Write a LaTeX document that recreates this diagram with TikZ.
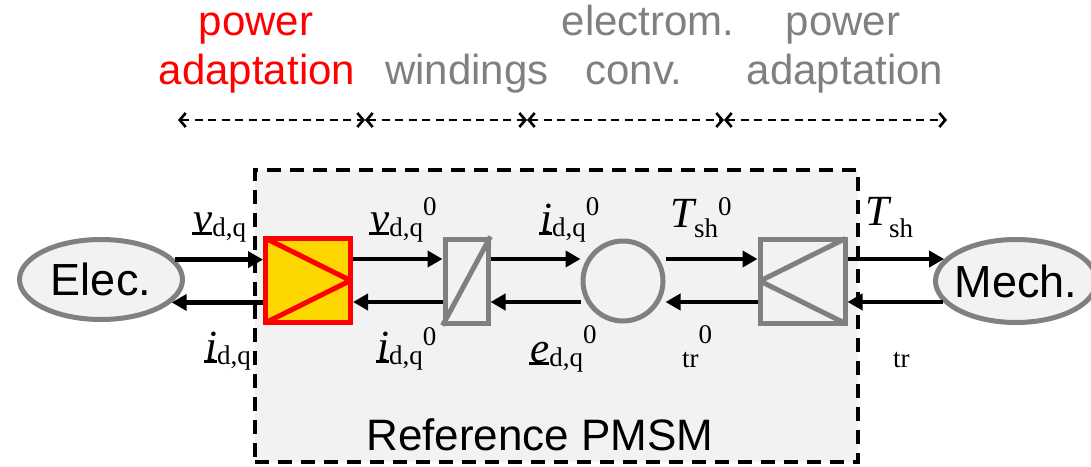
\documentclass[tikz,border=0pt]{standalone}
\usepackage{fontspec}
\setmainfont{Liberation Serif}
\newfontfamily\arialf{Liberation Sans}
\usetikzlibrary{arrows.meta,shapes.geometric}
\definecolor{ppred}{HTML}{FF0000}
\definecolor{ppgold}{HTML}{FFD700}
\definecolor{ppgray}{HTML}{808080}
\definecolor{ppbg}{HTML}{F2F2F2}
\newcommand\sbx[1]{\raisebox{-4pt}{\fontsize{27}{27}\selectfont\upshape #1}}
\newcommand\spx[1]{\raisebox{#1}{\fontsize{27}{27}\selectfont\upshape 0}}
\newcommand\ulet[1]{\setbox0\hbox{#1}\rlap{\kern-1pt\rule[-2.5pt]{\dimexpr\wd0+1pt\relax}{2.6pt}}\box0}
\begin{document}
\begin{tikzpicture}[x=1pt,y=-1pt,
  hdr/.style={font=\arialf\fontsize{42}{42}\selectfont, anchor=base, inner sep=0},
  darr/.style={line width=2.8pt, dash pattern=on 8pt off 5.5pt,
     {Straight Barb[length=6pt,width=14pt,line width=2.6pt]}-{Straight Barb[length=6pt,width=14pt,line width=2.6pt]}},
  arr/.style={line width=4.5pt, -{Triangle[length=15pt,width=16pt]}},
  gblock/.style={draw=ppgray, line width=5pt, fill=ppbg, inner sep=0},
  oval/.style={ellipse, draw=ppgray, line width=5pt, fill=ppbg, inner sep=0,
     font=\arialf\fontsize{45}{45}\selectfont},
  lab/.style={anchor=base west, inner sep=0, font=\fontsize{43}{43}\selectfont\itshape},
  sublab/.style={anchor=base west, inner sep=0, font=\fontsize{27}{27}\selectfont}
]
\useasboundingbox (0,0) rectangle (1091,466);

% reference PMSM box
\node[draw=black, line width=4pt, dash pattern=on 14pt off 9pt, fill=ppbg,
      minimum width=603pt, minimum height=292pt, inner sep=0] (pmsm) at (556.5,316) {};
\node[font=\arialf\fontsize{44}{44}\selectfont, anchor=base, inner sep=0] (pmsmlab) at (540,450) {Reference PMSM};

% headers
\node[hdr, text=ppred] (h1a) at (256,35) {power};
\node[hdr, text=ppred] (h1b) at (257,84) {adaptation};
\node[hdr, text=ppgray] (h2) at (467,84) {windings};
\node[hdr, text=ppgray] (h3a) at (648,35) {electrom.};
\node[hdr, text=ppgray] (h3b) at (634,84) {conv.};
\node[hdr, text=ppgray] (h4a) at (843,35) {power};
\node[hdr, text=ppgray] (h4b) at (845,84) {adaptation};

% dashed range arrows
\coordinate (t0) at (178,120);
\coordinate (t1) at (365,120);
\coordinate (t2) at (527,120);
\coordinate (t3) at (724,120);
\coordinate (t4) at (947,120);
\draw[darr] (t0) -- (t1);
\draw[darr] (t1) -- (t2);
\draw[darr] (t2) -- (t3);
\draw[darr] (t3) -- (t4);

% end ovals
\node[oval, minimum width=163pt, minimum height=80pt] (elec) at (101,279.5) {\makebox[0pt]{Elec.}};
\node[oval, minimum width=161pt, minimum height=83pt] (mech) at (1016,281) {\makebox[0pt]{Mech.}};

% blocks
\node[draw=ppred, line width=5pt, fill=ppgold, minimum width=85pt, minimum height=84pt, inner sep=0] (yb) at (308,280.5) {};
\draw[ppred, line width=5pt, line join=bevel] ([shift={(2pt,-2pt)}]yb.north west) -- ([xshift=-2.5pt]yb.east) -- ([shift={(2pt,2pt)}]yb.south west);
\node[gblock, minimum width=43pt, minimum height=84pt] (wb) at (466.5,281) {};
\draw[ppgray, line width=5pt] (wb.south west) -- (wb.north east);
\node[gblock, circle, minimum size=80pt] (cv) at (623,281) {};
\node[gblock, minimum width=85pt, minimum height=84pt] (rb) at (802.5,281) {};
\draw[ppgray, line width=5pt, line join=bevel] ([shift={(-2pt,-2pt)}]rb.north east) -- ([xshift=2.5pt]rb.west) -- ([shift={(-2pt,2pt)}]rb.south east);

% levels
\coordinate (up) at (0,259);
\coordinate (lo) at (0,302);

% connectors
\draw[arr] (elec.15) -- (elec.15 -| yb.west);
\draw[arr] (yb.west |- elec.-18) -- (elec.-18);
\draw[arr] (yb.east |- up) -- (wb.west |- up);
\draw[arr] (wb.west |- lo) -- (yb.east |- lo);
\draw[arr] (wb.east |- up) -- (cv.west |- up);
\draw[arr] (cv.west |- lo) -- (wb.east |- lo);
\draw[arr] (cv.east |- up) -- (rb.west |- up);
\draw[arr] (rb.west |- lo) -- (cv.east |- lo);
\draw[arr] (rb.east |- mech.163) -- (mech.163);
\draw[arr] (mech.196) -- (mech.196 -| rb.east);

% labels
\node[lab] (lv) at (193,232) {\ulet{v}\sbx{d,q}};
\node[lab] (li) at (205,360) {\ulet{i}\sbx{d,q}};
\node[lab] (mv) at (370,232) {\ulet{v}\sbx{d,q}\spx{17pt}};
\node[lab] (mi) at (377,360) {\ulet{i}\sbx{d,q}\spx{15pt}};
\node[lab] (ci) at (540,232) {\ulet{i}\sbx{d,q}\spx{17pt}};
\node[lab] (ce) at (530,362) {\ulet{e}\sbx{d,q}\spx{19pt}};
\node[lab] (ts0) at (670,227) {T\raisebox{-10pt}{\fontsize{27}{27}\selectfont\upshape sh}\spx{12pt}};
\node[sublab] (tr0) at (682,367) {tr\raisebox{24pt}{0}};
\node[lab] (ts) at (865,225) {T\raisebox{-12pt}{\fontsize{27}{27}\selectfont\upshape sh}};
\node[sublab] (tr) at (893,367) {tr};
\end{tikzpicture}
\end{document}
